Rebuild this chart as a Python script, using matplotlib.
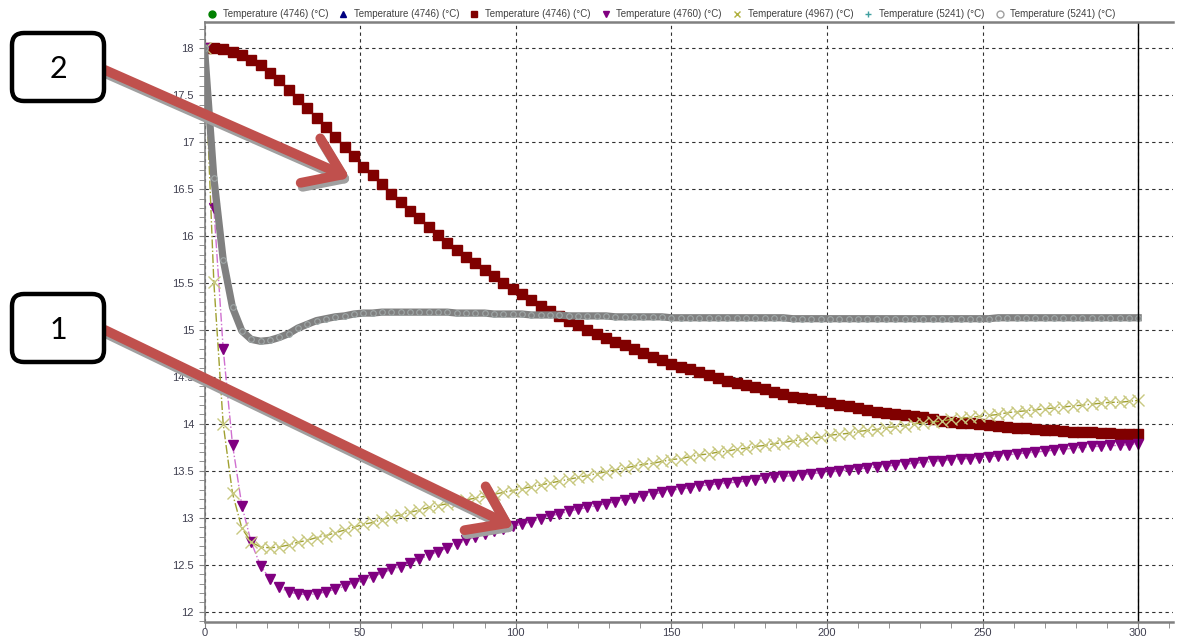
import numpy as np
import matplotlib
matplotlib.use("Agg")
import matplotlib.pyplot as plt
from matplotlib.lines import Line2D
from matplotlib.patches import FancyArrowPatch, FancyBboxPatch, ArrowStyle
from matplotlib.transforms import IdentityTransform

plt.rcParams['font.family'] = ['Liberation Sans', 'DejaVu Sans']

# time axis (s), one sample every 3 s
time = list(range(0, 301, 3))

# Temperature (4746) - red squares (green / blue series sit underneath)
t_4746 = [18.00, 18.00, 17.99, 17.96, 17.93, 17.87, 17.82, 17.74, 17.66, 17.56,
          17.46, 17.36, 17.26, 17.16, 17.06, 16.95, 16.85, 16.74, 16.65, 16.55,
          16.45, 16.36, 16.27, 16.19, 16.10, 16.01, 15.93, 15.85, 15.78, 15.71,
          15.64, 15.57, 15.50, 15.44, 15.38, 15.32, 15.26, 15.20, 15.15, 15.10,
          15.05, 15.00, 14.96, 14.91, 14.87, 14.84, 14.80, 14.76, 14.71, 14.68,
          14.64, 14.61, 14.58, 14.55, 14.52, 14.49, 14.46, 14.44, 14.41, 14.39,
          14.37, 14.34, 14.32, 14.29, 14.28, 14.26, 14.24, 14.22, 14.20, 14.19,
          14.17, 14.15, 14.13, 14.12, 14.10, 14.09, 14.08, 14.07, 14.05, 14.03,
          14.02, 14.01, 14.01, 14.00, 13.99, 13.98, 13.97, 13.96, 13.96, 13.95,
          13.94, 13.93, 13.92, 13.91, 13.91, 13.91, 13.90, 13.90, 13.89, 13.89,
          13.89]

# Temperature (4760) - purple triangles
t_4760 = [18.00, 16.30, 14.80, 13.78, 13.13, 12.74, 12.49, 12.35, 12.26, 12.21,
          12.19, 12.18, 12.19, 12.21, 12.24, 12.27, 12.31, 12.34, 12.37, 12.41,
          12.45, 12.48, 12.52, 12.56, 12.60, 12.64, 12.68, 12.72, 12.76, 12.80,
          12.83, 12.86, 12.88, 12.91, 12.93, 12.96, 12.99, 13.02, 13.04, 13.07,
          13.09, 13.11, 13.13, 13.15, 13.17, 13.19, 13.21, 13.23, 13.25, 13.27,
          13.29, 13.31, 13.32, 13.34, 13.35, 13.36, 13.37, 13.38, 13.39, 13.40,
          13.42, 13.43, 13.44, 13.45, 13.46, 13.47, 13.48, 13.49, 13.50, 13.51,
          13.52, 13.53, 13.54, 13.55, 13.56, 13.57, 13.58, 13.59, 13.60, 13.61,
          13.62, 13.63, 13.63, 13.64, 13.65, 13.66, 13.67, 13.68, 13.69, 13.70,
          13.71, 13.72, 13.73, 13.74, 13.75, 13.76, 13.76, 13.77, 13.77, 13.78,
          13.79]

# Temperature (4967) - olive crosses
t_4967 = [18.00, 15.51, 14.00, 13.26, 12.89, 12.74, 12.69, 12.68, 12.69, 12.71,
          12.74, 12.76, 12.79, 12.81, 12.84, 12.87, 12.90, 12.93, 12.95, 12.98,
          13.01, 13.03, 13.06, 13.08, 13.11, 13.13, 13.15, 13.17, 13.19, 13.21,
          13.23, 13.25, 13.27, 13.29, 13.31, 13.33, 13.35, 13.37, 13.39, 13.41,
          13.43, 13.45, 13.47, 13.49, 13.51, 13.53, 13.55, 13.57, 13.58, 13.60,
          13.62, 13.63, 13.65, 13.67, 13.68, 13.70, 13.71, 13.73, 13.74, 13.76,
          13.77, 13.79, 13.80, 13.82, 13.83, 13.85, 13.86, 13.88, 13.89, 13.90,
          13.92, 13.93, 13.94, 13.96, 13.97, 13.98, 14.00, 14.01, 14.02, 14.03,
          14.05, 14.06, 14.07, 14.08, 14.09, 14.10, 14.12, 14.13, 14.14, 14.15,
          14.16, 14.17, 14.18, 14.19, 14.20, 14.21, 14.22, 14.23, 14.23, 14.24,
          14.25]

# Temperature (5241) - thick grey line (teal plus series underneath)
t_5241 = [18.00, 16.62, 15.75, 15.24, 14.99, 14.90, 14.88, 14.89, 14.92, 14.96,
          15.02, 15.06, 15.10, 15.12, 15.14, 15.15, 15.17, 15.18, 15.18, 15.19,
          15.19, 15.19, 15.19, 15.19, 15.19, 15.19, 15.19, 15.18, 15.18, 15.18,
          15.18, 15.17, 15.17, 15.17, 15.17, 15.16, 15.16, 15.16, 15.16, 15.15,
          15.15, 15.15, 15.15, 15.15, 15.14, 15.14, 15.14, 15.14, 15.14, 15.14,
          15.13, 15.13, 15.13, 15.13, 15.13, 15.13, 15.13, 15.13, 15.13, 15.13,
          15.13, 15.13, 15.13, 15.12, 15.12, 15.12, 15.12, 15.12, 15.12, 15.12,
          15.12, 15.12, 15.12, 15.12, 15.12, 15.12, 15.12, 15.12, 15.12, 15.12,
          15.12, 15.12, 15.12, 15.12, 15.12, 15.13, 15.13, 15.13, 15.13, 15.13,
          15.13, 15.13, 15.13, 15.13, 15.13, 15.13, 15.13, 15.13, 15.13, 15.13,
          15.13]

legend_labels = ["Temperature (4746) (°C)", "Temperature (4746) (°C)", "Temperature (4746) (°C)",
                 "Temperature (4760) (°C)", "Temperature (4967) (°C)", "Temperature (5241) (°C)",
                 "Temperature (5241) (°C)"]

fig = plt.figure(figsize=(11.78, 6.38), dpi=100)
ax = fig.add_axes([0.1736, 0.0256, 0.8222, 0.94])

ax.plot(time, t_4746, color='#008000', marker='o', ms=5, lw=0.8)
ax.plot(time, t_4746, color='#000080', marker='^', ms=5, lw=0.8)
ax.plot(time, t_4746, color='#800000', marker='s', ms=6.5, mec='#800000', lw=1)
ax.plot(time, t_4760, color='#D070D0', ls='-.', lw=1, marker='v', ms=6.5,
        mfc='#800080', mec='#800080')
ax.plot(time, t_4967, color='#A0A030', ls='-.', lw=1, marker='x', ms=8,
        mec='#C8C880', mew=1)
ax.plot(time, t_5241, color='#40A0A0', ls='none', marker='+', ms=4)
ax.plot(time, t_5241, color='#808080', lw=5.2, marker='o', ms=4,
        mfc='none', mec='#A0A8A8', mew=0.8)

ax.axvline(300, color='black', lw=1)

ax.set_xlim(0, 311.2)
ax.set_ylim(11.894, 18.28)
ax.set_xticks([0, 50, 100, 150, 200, 250, 300])
ax.set_xticks(range(0, 311, 10), minor=True)
ax.set_yticks([12, 12.5, 13, 13.5, 14, 14.5, 15, 15.5, 16, 16.5, 17, 17.5, 18])
ax.set_yticklabels(['12', '12.5', '13', '13.5', '14', '14.5', '15', '15.5',
                    '16', '16.5', '17', '17.5', '18'])
ax.set_yticks(np.arange(11.9, 18.3, 0.1), minor=True)
ax.grid(True, which='major', color='#303030', ls=(0, (3, 3)), lw=0.8)
ax.tick_params(which='both', direction='out', color='#808080', length=4,
               labelsize=8, labelcolor='#404050')
ax.tick_params(axis='x', which='both', pad=0.8)
for side in ['top', 'bottom']:
    ax.spines[side].set_color('#808080')
    ax.spines[side].set_linewidth(1.8)
ax.spines['left'].set_color('#808080')
ax.spines['left'].set_linewidth(1.2)
ax.spines['right'].set_visible(False)

handles = [
    Line2D([], [], ls='none', marker='o', color='#008000', ms=5),
    Line2D([], [], ls='none', marker='^', color='#000080', ms=5),
    Line2D([], [], ls='none', marker='s', color='#800000', ms=5),
    Line2D([], [], ls='none', marker='v', color='#800080', ms=5),
    Line2D([], [], ls='none', marker='x', color='#B0B040', ms=5),
    Line2D([], [], ls='none', marker='+', color='#40A0A0', ms=5),
    Line2D([], [], ls='none', marker='o', mfc='none', mec='#A0A0A0', ms=5),
]
fig.legend(handles, legend_labels, loc='center', bbox_to_anchor=(0.561, 1 - 14 / 638),
           ncol=7, frameon=False, fontsize=7, handlelength=1.2,
           handletextpad=0.5, columnspacing=0.95, labelcolor='#404040',
           borderpad=0, borderaxespad=0)

H = 638
pix = IdentityTransform()

# numbered callout boxes (pixel coords, y from top)
for label, (bx, by) in [('2', (12, 33)), ('1', (12, 294))]:
    box = FancyBboxPatch((bx, H - by - 68), 92, 68,
                         boxstyle='round,pad=0,rounding_size=12',
                         transform=pix, facecolor='white', edgecolor='black',
                         lw=3.2, zorder=10)
    fig.patches.append(box)
    fig.text((bx + 46) / 1178, 1 - (by + 36) / H, label, ha='center', va='center',
             fontsize=22, family=['Lato', 'DejaVu Sans'], zorder=11)

# red callout arrows with grey shadow
style = ArrowStyle('->', head_length=0.5, head_width=0.35)
for (x0, y0), (x1, y1) in [((105, 70), (350, 178)), ((105, 330), (514, 527))]:
    for dx, dy, col, z in [(2, 4, '#A0A0A0', 8), (0, 0, '#C0504D', 9)]:
        arr = FancyArrowPatch((x0 + dx, H - y0 - dy), (x1 + dx, H - y1 - dy),
                              arrowstyle=style, mutation_scale=50, lw=7,
                              color=col, transform=pix, shrinkA=0, shrinkB=0,
                              capstyle='round', joinstyle='round', zorder=z)
        fig.patches.append(arr)

fig.savefig('out.png', dpi=100)
